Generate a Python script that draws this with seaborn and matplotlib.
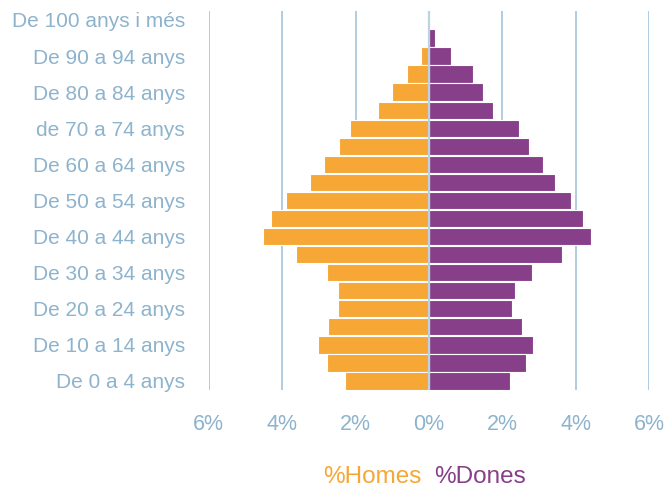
import matplotlib
matplotlib.use("Agg")
import matplotlib.pyplot as plt
import seaborn as sns
import pandas as pd

# Age groups, top to bottom
age_groups = [
    "De 100 anys i més", "De 95 a 99 anys", "De 90 a 94 anys", "De 85 a 89 anys",
    "De 80 a 84 anys", "De 75 a 79 anys", "de 70 a 74 anys", "De 65 a 69 anys",
    "De 60 a 64 anys", "De 55 a 59 anys", "De 50 a 54 anys", "De 45 a 49 anys",
    "De 40 a 44 anys", "De 35 a 39 anys", "De 30 a 34 anys", "De 25 a 29 anys",
    "De 20 a 24 anys", "De 15 a 19 anys", "De 10 a 14 anys", "De 5 a 9 anys",
    "De 0 a 4 anys",
]
# % men (shown to the left)
homes = [0.00, 0.03, 0.21, 0.61, 1.01, 1.38, 2.15, 2.44, 2.86, 3.25, 3.89, 4.30,
         4.51, 3.62, 2.77, 2.48, 2.49, 2.74, 3.02, 2.79, 2.29]
# % women (shown to the right)
dones = [0.02, 0.16, 0.61, 1.20, 1.46, 1.75, 2.44, 2.73, 3.11, 3.44, 3.88, 4.18,
         4.42, 3.61, 2.81, 2.34, 2.27, 2.54, 2.83, 2.65, 2.21]
x_ticks = [-6, -4, -2, 0, 2, 4, 6]
x_tick_labels = ["6%", "4%", "2%", "0%", "2%", "4%", "6%"]
legend_labels = ["%Homes", "%Dones"]

ORANGE = "#F6A735"
PURPLE = "#883F8A"
GRID = "#A9C8DC"
TEXT = "#8DB3CD"

df = pd.DataFrame({"grup": age_groups,
                   "homes": [-v for v in homes],
                   "dones": dones})

sns.set_style("white")
plt.rcParams["font.family"] = ["Liberation Sans", "DejaVu Sans"]

fig = plt.figure(figsize=(6.67, 4.94), dpi=100)
ax = fig.add_axes([0.313, 0.2105, 0.6605, 0.7675])

for x in x_ticks:
    if x != 0:
        ax.axvline(x, color=GRID, lw=1.3, zorder=0)

sns.barplot(data=df, x="homes", y="grup", order=age_groups, color=ORANGE,
            orient="h", width=0.96, edgecolor="white", linewidth=0.8,
            saturation=1, ax=ax, zorder=2)
sns.barplot(data=df, x="dones", y="grup", order=age_groups, color=PURPLE,
            orient="h", width=0.96, edgecolor="white", linewidth=0.8,
            saturation=1, ax=ax, zorder=2)

ax.axvline(0, color="#BCD3E2", lw=1.6, zorder=3)

ax.set_xlim(-6, 6)
ax.set_ylim(len(age_groups) - 0.5, -0.5)
ax.set_xticks(x_ticks)
ax.set_xticklabels(x_tick_labels)
ypos = list(range(0, len(age_groups), 2))
ax.set_yticks(ypos)
ax.set_yticklabels([age_groups[i] for i in ypos])
ax.tick_params(axis="both", length=0, colors=TEXT)
ax.tick_params(axis="x", pad=17, labelsize=15.5)
ax.tick_params(axis="y", pad=17, labelsize=15)
ax.set_xlabel("")
ax.set_ylabel("")
for s in ax.spines.values():
    s.set_visible(False)

fig.text(421 / 667, 1 - 477 / 494, legend_labels[0], color=ORANGE,
         fontsize=17.5, ha="right", va="center")
fig.text(434 / 667, 1 - 477 / 494, legend_labels[1], color=PURPLE,
         fontsize=17.5, ha="left", va="center")

fig.savefig("out.png", dpi=100)
